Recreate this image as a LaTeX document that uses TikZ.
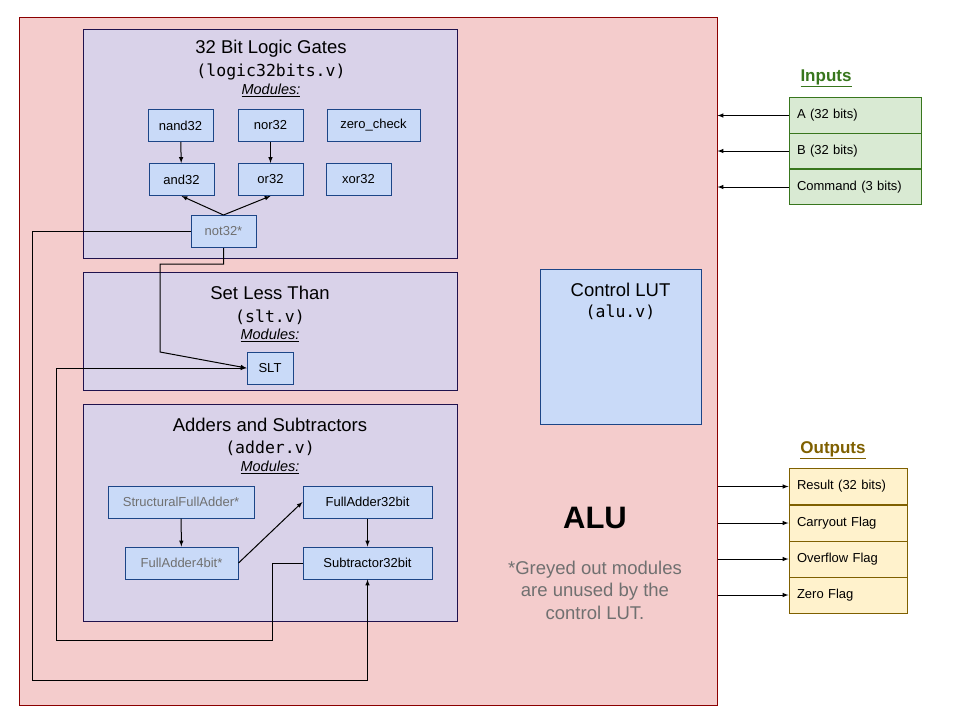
\documentclass[tikz,border=0pt]{standalone}
\usepackage{fontspec}
\setmainfont{Liberation Sans}
\newfontfamily\codefont{DejaVu Sans Mono}
\usepackage{xcolor}
\usepackage{tikz}
\usetikzlibrary{arrows,shapes}
\definecolor{alufill}{HTML}{F4CCCC}
\definecolor{aluborder}{HTML}{8B0000}
\definecolor{grpfill}{HTML}{D9D2E9}
\definecolor{grpborder}{HTML}{20124D}
\definecolor{modfill}{HTML}{C9DAF8}
\definecolor{modborder}{HTML}{1C4587}
\definecolor{infill}{HTML}{D9EAD3}
\definecolor{inborder}{HTML}{38761D}
\definecolor{outfill}{HTML}{FFF2CC}
\definecolor{outborder}{HTML}{7F6000}
\definecolor{greytext}{HTML}{707070}
\tikzstyle{alu}=[rectangle,draw=aluborder,fill=alufill,line width=1pt,minimum width=698pt,minimum height=688pt]
\tikzstyle{group}=[rectangle,draw=grpborder,fill=grpfill,line width=1pt,minimum width=374pt]
\tikzstyle{module}=[rectangle,draw=modborder,fill=modfill,line width=1pt,minimum height=32pt,inner sep=0pt,font=\fontsize{13}{15}\selectfont]
\tikzstyle{unused}=[module,text=greytext]
\tikzstyle{title}=[font=\fontsize{18.5}{22}\selectfont]
\tikzstyle{file}=[font=\codefont\fontsize{16.5}{19}\selectfont]
\tikzstyle{modlist}=[font=\fontsize{14.5}{17}\selectfont\itshape]
\tikzstyle{inport}=[rectangle,draw=inborder,fill=infill,line width=1pt,minimum height=35.5pt,text width=116pt,align=left,inner sep=8pt,font=\fontsize{13}{15}\selectfont]
\tikzstyle{outport}=[rectangle,draw=outborder,fill=outfill,line width=1pt,minimum height=36pt,text width=102pt,align=left,inner sep=8pt,font=\fontsize{13}{15}\selectfont]
\tikzstyle{wire}=[line width=1pt]

\begin{document}
\begin{tikzpicture}[x=1pt,y=-1pt,>=latex]
        \useasboundingbox (0,0) rectangle (960,720);
        \node at (368,361) [alu] (alu) {};

        % logic gates
        \node at (270,143.5) [group,minimum height=229pt] (logic) {};
        \node at (271,49) [title] (logictitle) {32 Bit Logic Gates};
        \node at (271,72) [file] (logicfile) {(logic32bits.v)};
        \node at (271,90) [modlist] (logicmods) {\underline{Modules:}};
        \node at (180.5,125.5) [module,minimum width=65pt] (nand) {nand32};
        \node at (270.5,125.5) [module,minimum width=65pt] (nor) {nor32};
        \node at (373.5,125.5) [module,minimum width=93pt] (zero) {zero\_check};
        \node at (181.5,179.5) [module,minimum width=65pt] (and) {and32};
        \node at (270.5,179.5) [module,minimum width=65pt] (or) {or32};
        \node at (358.5,179.5) [module,minimum width=65pt] (xor) {xor32};
        \node at (223.5,231.5) [unused,minimum width=65pt] (not) {not32*};

        % set less than
        \node at (270,331) [group,minimum height=118pt] (sltgroup) {};
        \node at (270,293) [title] (slttitle) {Set Less Than};
        \node at (270,317) [file] (sltfile) {(slt.v)};
        \node at (270,335) [modlist] (sltmods) {\underline{Modules:}};
        \node at (270,368) [module,minimum width=46pt] (slt) {SLT};

        % adders
        \node at (270,512.5) [group,minimum height=217pt] (adders) {};
        \node at (270,425) [title] (addtitle) {Adders and Subtractors};
        \node at (270,448) [file] (addfile) {(adder.v)};
        \node at (270,467) [modlist] (addmods) {\underline{Modules:}};
        \node at (181,502) [unused,minimum width=146pt] (sfa) {StructuralFullAdder*};
        \node at (181.5,563) [unused,minimum width=113pt] (fa4) {FullAdder4bit*};
        \node at (367.5,502) [module,minimum width=129pt] (fa32) {FullAdder32bit};
        \node at (367.5,563) [module,minimum width=129pt] (sub) {Subtractor32bit};

        % control
        \node at (620.5,346.5) [module,minimum width=161pt,minimum height=155pt] (lut) {};
        \node at (620.5,290) [title] (luttitle) {Control LUT};
        \node at (620.5,312) [file] (lutfile) {(alu.v)};
        \node at (595,518) [font=\fontsize{31}{36}\selectfont\bfseries] (alulabel) {ALU};
        \node at (595,590) [align=center,text=greytext,font=\fontsize{18.5}{22.5}\selectfont] (note) {*Greyed out modules\\are unused by the\\control LUT.};

        % inputs and outputs
        \node at (826,78) [text=inborder,font=\fontsize{17}{20}\selectfont\bfseries] (intitle) {\underline{Inputs}};
        \node at (855,115.5) [inport] (ina) {A (32 bits)};
        \node at (855,151) [inport] (inb) {B (32 bits)};
        \node at (855,187) [inport] (cmd) {Command (3 bits)};
        \node at (833,450) [text=outborder,font=\fontsize{17}{20}\selectfont\bfseries] (outtitle) {\underline{Outputs}};
        \node at (848,486.5) [outport] (res) {Result (32 bits)};
        \node at (848,523) [outport] (cout) {Carryout Flag};
        \node at (848,559) [outport] (ovf) {Overflow Flag};
        \node at (848,595) [outport] (zf) {Zero Flag};

        \draw [wire,->] (ina) -- (ina -| alu.east);
        \draw [wire,->] (inb) -- (inb -| alu.east);
        \draw [wire,->] (cmd) -- (cmd -| alu.east);
        \draw [wire,->] (res -| alu.east) -- (res);
        \draw [wire,->] (cout -| alu.east) -- (cout);
        \draw [wire,->] (ovf -| alu.east) -- (ovf);
        \draw [wire,->] (zf -| alu.east) -- (zf);

        \draw [wire,->] (nand) -- (and);
        \draw [wire,->] (nor) -- (or);
        \draw [wire,->] (not.north) -- (and.south);
        \draw [wire,->] (not.north) -- (or.south);
        \draw [wire,->] (not.west) -| (32,680) -| (sub.south);
        \draw [wire,->] (not.south) -- ++(0,16) -| (160,352) -- (slt.west);
        \draw [wire,->] (sub.west) -| (272,640) -| (56,368) -- (slt.west);
        \draw [wire,->] (sfa) -- (fa4);
        \draw [wire,->] (fa4.east) -- (fa32.west);
        \draw [wire,->] (fa32) -- (sub);
      \end{tikzpicture}
\end{document}
